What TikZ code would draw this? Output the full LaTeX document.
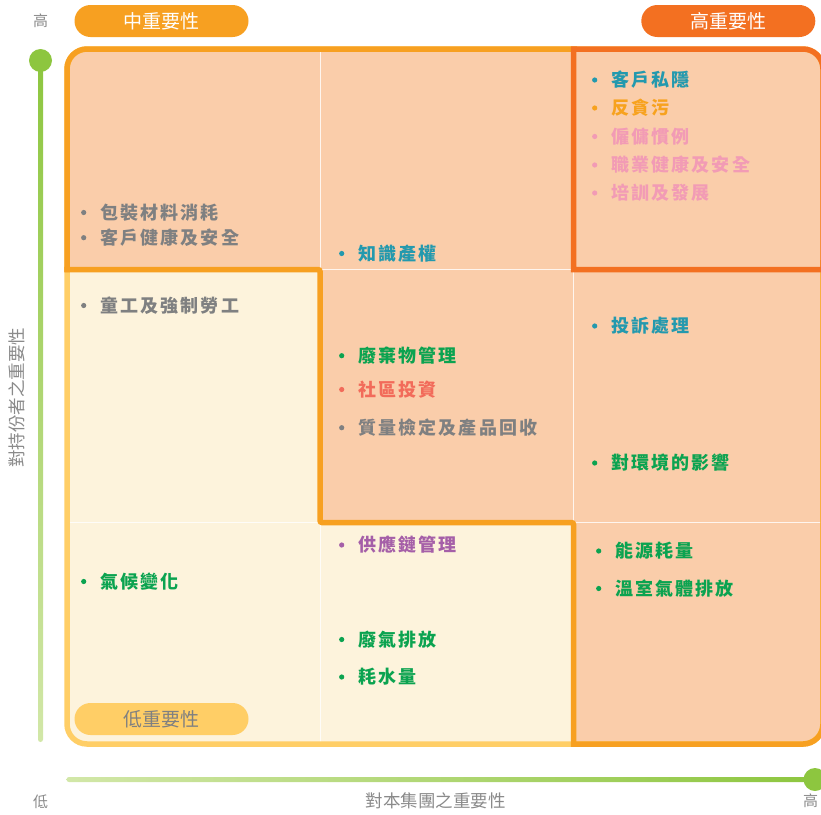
\documentclass[tikz,border=0pt]{standalone}
\usepackage{fontspec}
\newfontfamily\cjk{Noto Sans CJK TC}
\newfontfamily\cjkb[LetterSpace=12]{Noto Sans CJK TC}
\definecolor{peach}{HTML}{FACDAA}
\definecolor{cream}{HTML}{FDF3DC}
\definecolor{ob}{HTML}{F7A021}
\definecolor{rb}{HTML}{F37021}
\definecolor{yb}{HTML}{FFCE66}
\definecolor{ag}{HTML}{8DC63F}
\definecolor{al}{HTML}{D2E7A8}
\definecolor{tgray}{HTML}{7F8081}
\definecolor{tteal}{HTML}{2399AE}
\definecolor{tgreen}{HTML}{0BA350}
\definecolor{torange}{HTML}{F7A21E}
\definecolor{tpink}{HTML}{F29BB5}
\definecolor{tred}{HTML}{F26B5A}
\definecolor{tpurple}{HTML}{A55FA8}
\definecolor{lgray}{HTML}{8A8A8A}
\newcommand\bul[2]{\fill[#1] ([xshift=-16.3pt]#2.west) circle (2.6pt);}
\begin{document}
\begin{tikzpicture}[x=1pt,y=-1pt,
  item/.style={anchor=west,inner sep=0pt,font=\cjkb\bfseries\fontsize{18}{20}\selectfont},
  pill/.style={minimum width=174pt,minimum height=32pt,rounded corners=16pt,inner sep=0pt,font=\cjk\fontsize{19}{21}\selectfont},
  axlab/.style={inner sep=0pt,text=lgray,font=\cjk\fontsize{17.5}{19}\selectfont},
  tick/.style={inner sep=0pt,text=lgray,font=\cjk\fontsize{15}{16}\selectfont},
  bord/.style={line width=5.5pt},
  grid/.style={white,line width=1pt,opacity=0.8}]
\useasboundingbox (0,0) rectangle (821,814);
% backgrounds
\begin{scope}
\clip[rounded corners=20pt] (67,49) rectangle (823,744);
\fill[peach] (60,40) rectangle (830,750);
\fill[cream] (60,269.5) -- (320,269.5) -- (320,522.5) -- (573.5,522.5) -- (573.5,750) -- (60,750) -- cycle;
\draw[grid] (320,40) -- (320,750);
\draw[grid] (573.5,40) -- (573.5,750);
\draw[grid] (60,269.5) -- (830,269.5);
\draw[grid] (60,522.5) -- (830,522.5);
\end{scope}
% borders
\draw[bord,yb,rounded corners=20pt] (67,49) rectangle (823,744);
\draw[bord,ob,rounded corners=20pt] (67,272) -- (67,49) -- (577,49);
\draw[bord,ob,rounded corners=20pt] (823,260) -- (823,744) -- (571,744);
\draw[bord,ob,rounded corners=2pt] (64.25,269.5) -- (320,269.5) -- (320,522.5) -- (573.5,522.5) -- (573.5,746.75);
\draw[bord,rb,line join=miter] (573.5,269.5) -- (573.5,49) -- (803,49) arc[start angle=-90,end angle=0,radius=20] -- (823,269.5) -- cycle;
% axes
\shade[top color=ag,bottom color=al,rounded corners=2.5pt] (38,60) rectangle (43,742);
\fill[ag] (40.5,60.5) circle (11.5pt);
\shade[left color=al,right color=ag,rounded corners=2.5pt] (66.5,777) rectangle (815,782);
\fill[ag] (815,779.5) circle (11.5pt);
\node[tick] (yhi) at (40.5,21) {高};
\node[tick] (ylo) at (40.5,802) {低};
\node[tick] (xhi) at (810.5,801) {高};
\node[axlab] (xlab) at (435.5,801) {對本集團之重要性};
\node[axlab,rotate=90] (ylab) at (17,397.5) {對持份者之重要性};
% pills
\node[pill,fill=ob,text=white] (pmid) at (161.5,21) {中重要性};
\node[pill,fill=rb,text=white] (phigh) at (728.3,21) {高重要性};
\node[pill,fill=yb,text=tgray] (plow) at (161.5,719) {低重要性};
% items
\node[item,text=tgray] (a1) at (100,212.5) {包裝材料消耗}; \bul{tgray}{a1}
\node[item,text=tgray] (a2) at (100,237.7) {客戶健康及安全}; \bul{tgray}{a2}
\node[item,text=tteal] (b1) at (358,253.5) {知識產權}; \bul{tteal}{b1}
\node[item,text=tteal] (c1) at (611,80) {客戶私隱}; \bul{tteal}{c1}
\node[item,text=torange] (c2) at (611,108) {反貪污}; \bul{torange}{c2}
\node[item,text=tpink] (c3) at (611,136.5) {僱傭慣例}; \bul{tpink}{c3}
\node[item,text=tpink] (c4) at (611,165) {職業健康及安全}; \bul{tpink}{c4}
\node[item,text=tpink] (c5) at (611,193) {培訓及發展}; \bul{tpink}{c5}
\node[item,text=tgray] (d1) at (100,305.5) {童工及強制勞工}; \bul{tgray}{d1}
\node[item,text=tgreen] (e1) at (358,355.7) {廢棄物管理}; \bul{tgreen}{e1}
\node[item,text=tred] (e2) at (358,389.5) {社區投資}; \bul{tred}{e2}
\node[item,text=tgray] (e3) at (358,427.7) {質量檢定及產品回收}; \bul{tgray}{e3}
\node[item,text=tteal] (f1) at (611,326) {投訴處理}; \bul{tteal}{f1}
\node[item,text=tgreen] (f2) at (611,463) {對環境的影響}; \bul{tgreen}{f2}
\node[item,text=tgreen] (g1) at (100,581.5) {氣候變化}; \bul{tgreen}{g1}
\node[item,text=tpurple] (h1) at (358,545) {供應鏈管理}; \bul{tpurple}{h1}
\node[item,text=tgreen] (h2) at (358,639.5) {廢氣排放}; \bul{tgreen}{h2}
\node[item,text=tgreen] (h3) at (358,677) {耗水量}; \bul{tgreen}{h3}
\node[item,text=tgreen] (i1) at (615,551) {能源耗量}; \bul{tgreen}{i1}
\node[item,text=tgreen] (i2) at (615,588.5) {溫室氣體排放}; \bul{tgreen}{i2}
\end{tikzpicture}
\end{document}
